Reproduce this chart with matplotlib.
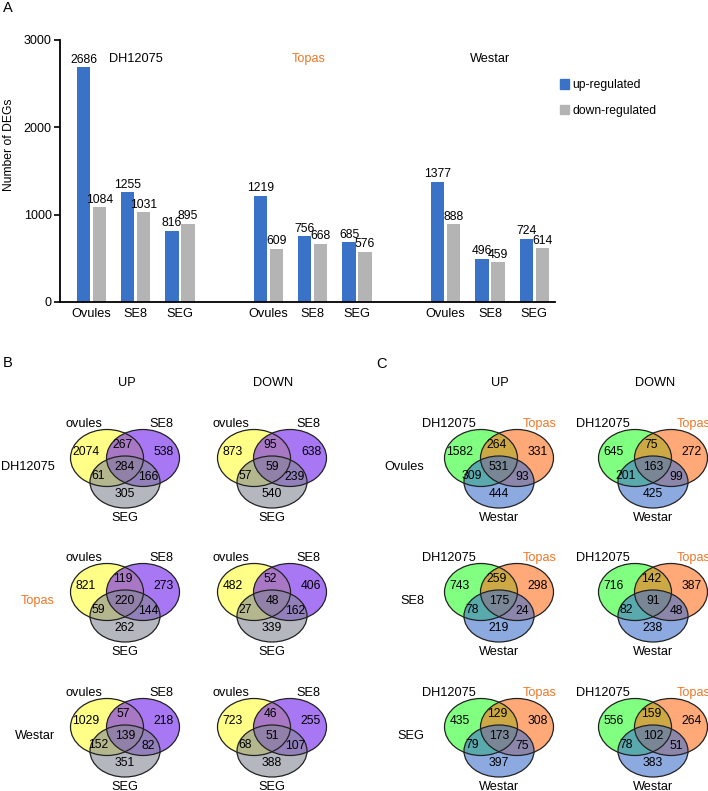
import matplotlib
matplotlib.use("Agg")
import matplotlib.pyplot as plt
from matplotlib.patches import Ellipse, Patch
import numpy as np

plt.rcParams['font.family'] = ['Liberation Sans', 'DejaVu Sans']

# ---- datos panel A ----
cultivares = ["DH12075", "Topas", "Westar"]
tejidos = ["Ovules", "SE8", "SEG"]
up_reg = [2686, 1255, 816, 1219, 756, 685, 1377, 496, 724]
down_reg = [1084, 1031, 895, 609, 668, 576, 888, 459, 614]

# ---- datos panel B (ovules, SE8, SEG) ----
# orden: solo A, A&B, solo B, A&B&C, A&C, B&C, solo C
venn_b_labels = ["ovules", "SE8", "SEG"]
venn_b_up = {
    "DH12075": [2074, 267, 538, 284, 61, 166, 305],
    "Topas": [821, 119, 273, 220, 59, 144, 262],
    "Westar": [1029, 57, 218, 139, 152, 82, 351],
}
venn_b_down = {
    "DH12075": [873, 95, 638, 59, 57, 239, 540],
    "Topas": [482, 52, 406, 48, 27, 162, 339],
    "Westar": [723, 46, 255, 51, 68, 107, 388],
}

# ---- datos panel C (DH12075, Topas, Westar) ----
venn_c_labels = ["DH12075", "Topas", "Westar"]
venn_c_up = {
    "Ovules": [1582, 264, 331, 531, 309, 93, 444],
    "SE8": [743, 259, 298, 175, 78, 24, 219],
    "SEG": [435, 129, 308, 173, 79, 75, 397],
}
venn_c_down = {
    "Ovules": [645, 75, 272, 163, 201, 99, 425],
    "SE8": [716, 142, 387, 91, 82, 48, 238],
    "SEG": [556, 159, 264, 102, 78, 51, 383],
}

azul = "#3A72C8"
gris = "#B4B4B4"
naranja = "#F07828"
fs = 8.7

fig = plt.figure(figsize=(7.08, 7.91), dpi=100)

# ================= Panel A =================
ax = fig.add_axes([60 / 708, 1 - 302 / 791, 495 / 708, 262 / 791])
pos = np.array([0, 1, 2, 4, 5, 6, 8, 9, 10])
w = 0.3
b1 = ax.bar(pos - 0.18, up_reg, w, color=azul, label="up-regulated")
b2 = ax.bar(pos + 0.18, down_reg, w, color=gris, label="down-regulated")
ax.bar_label(b1, padding=1, fontsize=fs)
ax.bar_label(b2, padding=1, fontsize=fs)
ax.set_xlim(-0.71, 10.47)
ax.set_ylim(0, 3000)
ax.set_yticks([0, 1000, 2000, 3000])
ax.set_xticks(pos)
ax.set_xticklabels(tejidos * 3, fontsize=9.2)
ax.tick_params(axis='x', length=0, pad=4)
ax.tick_params(axis='y', direction='out', length=4, width=1.2, labelsize=9, pad=2)
ax.set_ylabel("Number of DEGs", fontsize=fs, labelpad=6)
ax.yaxis.set_label_coords(-0.090, 0.60)
for s in ["top", "right"]:
    ax.spines[s].set_visible(False)
for s in ["left", "bottom"]:
    ax.spines[s].set_linewidth(1.3)

for xc, nombre in zip([1.0, 4.9, 9.0], cultivares):
    ax.text(xc, 2785, nombre, ha='center', va='center', fontsize=9.2,
            color=naranja if nombre == "Topas" else "black")

ax.legend(handles=[Patch(color=azul), Patch(color=gris)],
          labels=["up-regulated", "down-regulated"],
          loc='upper left', bbox_to_anchor=(1.01, 0.85), frameon=False,
          fontsize=fs, handlelength=0.75, handleheight=0.85, handletextpad=0.3,
          labelspacing=1.1, borderpad=0, borderaxespad=0)

# ================= Paneles B y C =================
ov = fig.add_axes([0, 0, 1, 1])
ov.set_xlim(0, 708)
ov.set_ylim(791, 0)
ov.axis('off')

colores_b = [(1.0, 1.0, 0.22), (0.43, 0.12, 0.93), (0.51, 0.53, 0.58)]
colores_c = [(0.17, 1.0, 0.17), (1.0, 0.44, 0.12), (0.25, 0.44, 0.80)]


def venn(cx, cy, vals, labels, colores):
    elipses = [(cx - 18, cy, 73, 57), (cx + 18, cy, 73, 57), (cx, cy + 24, 70, 52)]
    for (ex, ey, ew, eh), c in zip(elipses, colores):
        ov.add_patch(Ellipse((ex, ey), ew, eh, facecolor=c, alpha=0.6, edgecolor='none'))
    for (ex, ey, ew, eh) in elipses:
        ov.add_patch(Ellipse((ex, ey), ew, eh, facecolor='none', edgecolor='#222222', lw=0.9))
    offs = [(-39, -6), (-2, -13), (39, -6), (0, 9), (-27, 18), (23, 19), (0, 36)]
    for v, (dx, dy) in zip(vals, offs):
        ov.text(cx + dx, cy + dy, str(v), ha='center', va='center', fontsize=fs)
    ov.text(cx - 23, cy - 34, labels[0], ha='right', va='center', fontsize=9.2,
            color=naranja if labels[0] == "Topas" else "black")
    ov.text(cx + 24, cy - 34, labels[1], ha='left', va='center', fontsize=9.2,
            color=naranja if labels[1] == "Topas" else "black")
    ov.text(cx, cy + 60, labels[2], ha='center', va='center', fontsize=9.2)


filas_y = [458, 592, 727]
for fila, cy in zip(cultivares, filas_y):
    venn(125, cy, venn_b_up[fila], venn_b_labels, colores_b)
    venn(272, cy, venn_b_down[fila], venn_b_labels, colores_b)
    ov.text(55, cy + 9, fila, ha='right', va='center', fontsize=9.2,
            color=naranja if fila == "Topas" else "black")
for fila, cy in zip(tejidos, filas_y):
    venn(499, cy, venn_c_up[fila], venn_c_labels, colores_c)
    venn(653, cy, venn_c_down[fila], venn_c_labels, colores_c)
    ov.text(424, cy + 9, fila, ha='right', va='center', fontsize=9.2)

for xc, t in [(127, "UP"), (273, "DOWN"), (500, "UP"), (655, "DOWN")]:
    ov.text(xc, 383, t, ha='center', va='center', fontsize=9.2)

for xc, yc, t in [(3, 8, "A"), (3, 363, "B"), (376, 364, "C")]:
    ov.text(xc, yc, t, ha='left', va='center', fontsize=10.5)

fig.savefig("out.png", dpi=100)
